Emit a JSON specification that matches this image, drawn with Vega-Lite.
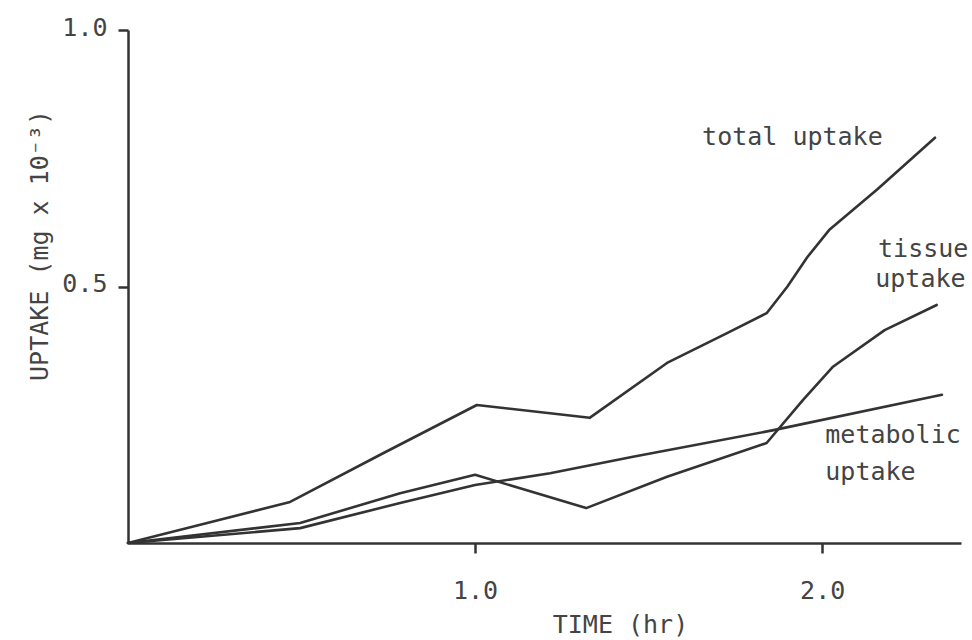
{
  "$schema": "https://vega.github.io/schema/vega-lite/v6.json",
  "autosize": "none",
  "width": 833,
  "height": 513,
  "padding": {"left": 128, "top": 30, "right": 11, "bottom": 97},
  "background": "white",
  "config": {
    "view": {"stroke": null},
    "font": "DejaVu Sans Mono",
    "axis": {
      "domainColor": "#333333",
      "domainWidth": 2.5,
      "tickColor": "#333333",
      "tickWidth": 2.5,
      "tickSize": 10,
      "grid": false,
      "labelFont": "DejaVu Sans Mono",
      "labelFontSize": 25,
      "labelColor": "#444444",
      "titleFont": "DejaVu Sans Mono",
      "titleFontSize": 25,
      "titleFontWeight": "normal",
      "titleColor": "#444444"
    }
  },
  "datasets": {
    "curves": [
      {"series": "total", "t": 0, "v": 0},
      {"series": "total", "t": 0.228, "v": 0.039},
      {"series": "total", "t": 0.467, "v": 0.08},
      {"series": "total", "t": 0.735, "v": 0.175},
      {"series": "total", "t": 1.005, "v": 0.269},
      {"series": "total", "t": 1.216, "v": 0.253},
      {"series": "total", "t": 1.33, "v": 0.244},
      {"series": "total", "t": 1.553, "v": 0.351},
      {"series": "total", "t": 1.726, "v": 0.409},
      {"series": "total", "t": 1.84, "v": 0.448},
      {"series": "total", "t": 1.9, "v": 0.5},
      {"series": "total", "t": 1.957, "v": 0.557},
      {"series": "total", "t": 2.02, "v": 0.61},
      {"series": "total", "t": 2.16, "v": 0.69},
      {"series": "total", "t": 2.325, "v": 0.79},
      {"series": "tissue", "t": 0, "v": 0},
      {"series": "tissue", "t": 0.496, "v": 0.039},
      {"series": "tissue", "t": 0.784, "v": 0.097},
      {"series": "tissue", "t": 1.0, "v": 0.133},
      {"series": "tissue", "t": 1.32, "v": 0.068},
      {"series": "tissue", "t": 1.553, "v": 0.129},
      {"series": "tissue", "t": 1.84, "v": 0.195},
      {"series": "tissue", "t": 1.945, "v": 0.279},
      {"series": "tissue", "t": 2.03, "v": 0.343},
      {"series": "tissue", "t": 2.18, "v": 0.415},
      {"series": "tissue", "t": 2.33, "v": 0.464},
      {"series": "metabolic", "t": 0, "v": 0},
      {"series": "metabolic", "t": 0.496, "v": 0.029},
      {"series": "metabolic", "t": 0.784, "v": 0.078},
      {"series": "metabolic", "t": 1.0, "v": 0.113},
      {"series": "metabolic", "t": 1.216, "v": 0.136},
      {"series": "metabolic", "t": 1.455, "v": 0.168},
      {"series": "metabolic", "t": 1.86, "v": 0.22},
      {"series": "metabolic", "t": 2.345, "v": 0.289}
    ],
    "labels": [
      {"text": "total uptake", "t": 1.654, "v": 0.776},
      {"text": "tissue", "t": 2.161, "v": 0.5575},
      {"text": "uptake", "t": 2.153, "v": 0.499},
      {"text": "metabolic", "t": 2.009, "v": 0.195},
      {"text": "uptake", "t": 2.009, "v": 0.123}
    ]
  },
  "layer": [
    {
      "data": {"name": "curves"},
      "mark": {"type": "line", "color": "#333333", "strokeWidth": 2.6, "strokeJoin": "round", "strokeCap": "round", "clip": false},
      "encoding": {
        "x": {
          "field": "t",
          "type": "quantitative",
          "scale": {"domain": [0, 2.4], "nice": false, "zero": true},
          "axis": {
            "title": "TIME (hr)",
            "values": [1, 2],
            "format": ".1f",
            "labelBaseline": "alphabetic",
            "labelPadding": 45,
            "titleX": 492,
            "titleY": 89,
            "titleAnchor": null,
            "titleAlign": "center",
            "titleBaseline": "alphabetic"
          }
        },
        "y": {
          "field": "v",
          "type": "quantitative",
          "scale": {"domain": [0, 1], "nice": false},
          "axis": {
            "title": "UPTAKE (mg x 10⁻³)",
            "values": [0.5, 1.0],
            "format": ".1f",
            "labelBaseline": "alphabetic",
            "labelOffset": 5,
            "labelPadding": 11,
            "titleAngle": 270,
            "titleX": -81,
            "titleY": 215,
            "titleAlign": "center",
            "titleBaseline": "alphabetic"
          }
        },
        "detail": {"field": "series", "type": "nominal"}
      }
    },
    {
      "data": {"name": "labels"},
      "mark": {"type": "text", "align": "left", "baseline": "alphabetic", "font": "DejaVu Sans Mono", "fontSize": 25, "color": "#444444", "clip": false},
      "encoding": {
        "x": {"field": "t", "type": "quantitative"},
        "y": {"field": "v", "type": "quantitative"},
        "text": {"field": "text", "type": "nominal"}
      }
    }
  ]
}
